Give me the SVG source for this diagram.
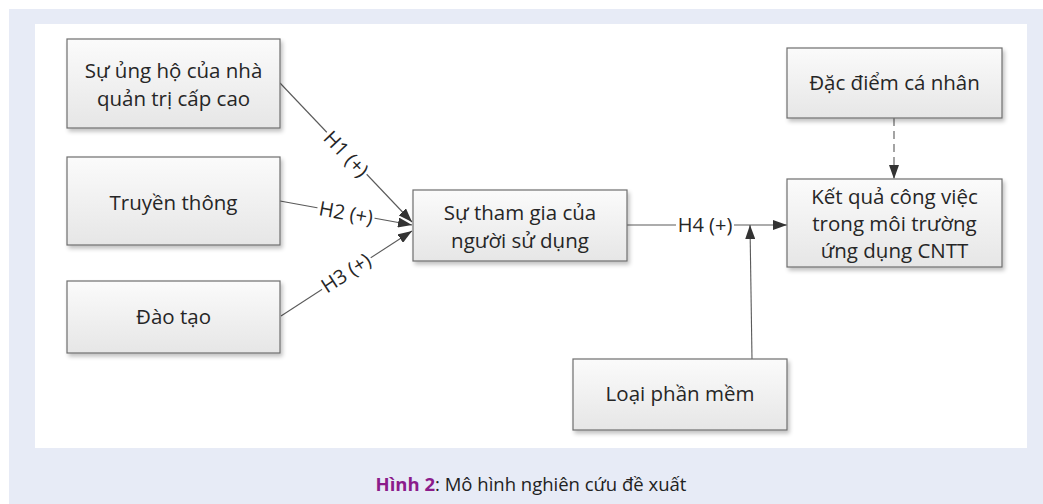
<svg xmlns="http://www.w3.org/2000/svg" width="1043" height="504" viewBox="0 0 1043 504">
  <defs>
    <linearGradient id="boxFill" x1="0" y1="0" x2="0" y2="1">
      <stop offset="0" stop-color="#fbfbfb"/>
      <stop offset="1" stop-color="#e6e6e6"/>
    </linearGradient>
    <filter id="shadow" x="-10%" y="-10%" width="125%" height="135%">
      <feGaussianBlur in="SourceAlpha" stdDeviation="2"/>
      <feOffset dx="2" dy="3" result="b"/>
      <feComponentTransfer><feFuncA type="linear" slope="0.25"/></feComponentTransfer>
      <feMerge><feMergeNode/><feMergeNode in="SourceGraphic"/></feMerge>
    </filter>
    <marker id="arrow" viewBox="0 0 14 10" refX="14" refY="5" markerWidth="14" markerHeight="10" markerUnits="userSpaceOnUse" orient="auto">
      <path d="M0,0 L14,5 L0,10 Z" fill="#333333"/>
    </marker>
  </defs>
  <style>
    .box { fill: url(#boxFill); stroke: #6e6e6e; stroke-width: 1.2; filter: url(#shadow); }
    .lbl { font-family: "Open Sans", "Liberation Sans", sans-serif; font-size: 20.5px; fill: #262626; text-anchor: middle; }
    .edge { stroke: #5a5a5a; stroke-width: 1.1; fill: none; }
    .hyp { font-family: "Open Sans", "Liberation Sans", sans-serif; font-size: 20px; fill: #262626; text-anchor: middle; }
    .gap { fill: #ffffff; }
    .cap { font-family: "Open Sans", "Liberation Sans", sans-serif; font-size: 18.5px; fill: #222222; text-anchor: middle; }
  </style>

  <!-- page backdrop and figure panel -->
  <rect x="9" y="9" width="1034" height="495" fill="#e7ebf6"/>
  <rect x="35" y="24" width="992" height="424" fill="#ffffff"/>

  <!-- connectors with hypothesis labels -->
  <g id="connectors">
    <line class="edge" x1="280" y1="83" x2="412" y2="222" marker-end="url(#arrow)"/>
    <line class="edge" x1="280" y1="201" x2="412" y2="225" marker-end="url(#arrow)"/>
    <line class="edge" x1="281" y1="316" x2="412" y2="231" marker-end="url(#arrow)"/>
    <line class="edge" x1="627" y1="225" x2="787" y2="225" marker-end="url(#arrow)"/>
    <line class="edge" x1="752" y1="359" x2="750" y2="225" marker-end="url(#arrow)"/>
    <line class="edge" x1="894" y1="118" x2="894" y2="179" stroke-dasharray="8 5" marker-end="url(#arrow)"/>
    <g transform="translate(346,154) rotate(46.5)">
      <rect class="gap" x="-29" y="-9" width="58" height="18"/>
      <text class="hyp" y="7">H1 (+)</text>
    </g>
    <g transform="translate(346,213) rotate(10.3)">
      <rect class="gap" x="-29" y="-9" width="58" height="18"/>
      <text class="hyp" y="7">H2 (+)</text>
    </g>
    <g transform="translate(346,273) rotate(-33)">
      <rect class="gap" x="-29" y="-9" width="58" height="18"/>
      <text class="hyp" y="7">H3 (+)</text>
    </g>
    <g transform="translate(705,225)">
      <rect class="gap" x="-29" y="-9" width="58" height="18"/>
      <text class="hyp" y="7">H4 (+)</text>
    </g>
  </g>

  <g id="node-su-ung-ho">
    <rect class="box" x="67" y="39" width="213" height="89"/>
    <text class="lbl" x="173.5" y="78">Sự ủng hộ của nhà</text>
    <text class="lbl" x="173.5" y="106">quản trị cấp cao</text>
  </g>
  <g id="node-truyen-thong">
    <rect class="box" x="67" y="157" width="213" height="88"/>
    <text class="lbl" x="173.5" y="210">Truyền thông</text>
  </g>
  <g id="node-dao-tao">
    <rect class="box" x="67" y="281" width="213" height="72"/>
    <text class="lbl" x="173.5" y="324">Đào tạo</text>
  </g>
  <g id="node-su-tham-gia">
    <rect class="box" x="413" y="190" width="214" height="71"/>
    <text class="lbl" x="520" y="220">Sự tham gia của</text>
    <text class="lbl" x="520" y="248">người sử dụng</text>
  </g>
  <g id="node-dac-diem">
    <rect class="box" x="787" y="48" width="215" height="70"/>
    <text class="lbl" x="894.5" y="90">Đặc điểm cá nhân</text>
  </g>
  <g id="node-ket-qua">
    <rect class="box" x="787" y="179" width="215" height="88"/>
    <text class="lbl" x="894.5" y="204">Kết quả công việc</text>
    <text class="lbl" x="894.5" y="231">trong môi trường</text>
    <text class="lbl" x="894.5" y="258">ứng dụng CNTT</text>
  </g>
  <g id="node-loai-phan-mem">
    <rect class="box" x="573" y="359" width="214" height="71"/>
    <text class="lbl" x="680" y="401">Loại phần mềm</text>
  </g>

  <!-- figure caption -->
  <text class="cap" x="531" y="491"><tspan font-weight="bold" fill="#8b1c8b">Hình 2</tspan>: Mô hình nghiên cứu đề xuất</text>
</svg>
